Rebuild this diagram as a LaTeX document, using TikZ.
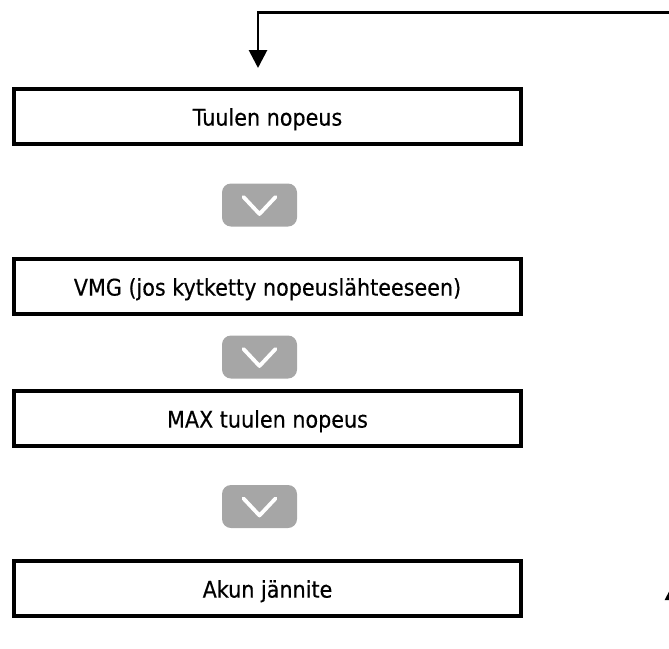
\documentclass[tikz,border=0pt]{standalone}
\usepackage{fontspec}
\setmainfont{DejaVu Sans}[FakeStretch=0.9,FakeBold=0.4]
\usetikzlibrary{arrows.meta}
\definecolor{btngray}{HTML}{A6A6A6}
\tikzset{
  box/.style={draw=black, line width=3.2pt, minimum width=507pt, minimum height=55pt, inner sep=0pt,
    text height=18.2pt, text depth=0pt, font=\fontsize{23}{27}\selectfont},
  btn/.style={fill=btngray, rounded corners=9pt, minimum width=75pt, minimum height=43pt, inner sep=0pt},
  chev/.style={draw=white, line width=3.8pt, line cap=round, line join=round},
  conn/.style={draw=black, line width=2.8pt, -{Triangle[width=18pt,length=18pt]}}
}
\begin{document}
\begin{tikzpicture}[x=1pt,y=-1pt]
\useasboundingbox (0,0) rectangle (669,648);
\clip (0,0) rectangle (669,648);
\node[box] (b1) at (267.5,116.5) {Tuulen nopeus};
\node[box] (b2) at (267.5,286.5) {VMG (jos kytketty nopeuslähteeseen)};
\node[box] (b3) at (267.5,418.5) {MAX tuulen nopeus};
\node[box] (b4) at (267.5,588.5) {Akun jännite};
\node[btn] (k1) at (259.5,205) {};
\node[btn] (k2) at (259.5,357) {};
\node[btn] (k3) at (259.5,506.5) {};
\foreach \k in {k1,k2,k3}{
  \draw[chev] ([shift={(-16,-8)}]\k.center) -- ([shift={(0,9)}]\k.center) -- ([shift={(16,-8)}]\k.center);
}
\coordinate (topR) at (700,12.5);
\coordinate (in1) at (258,68);
\draw[conn] (topR) -| (in1);
\coordinate (botR) at (674,700);
\coordinate (upT) at (674,582);
\draw[conn] (botR) -- (upT);
\end{tikzpicture}
\end{document}
